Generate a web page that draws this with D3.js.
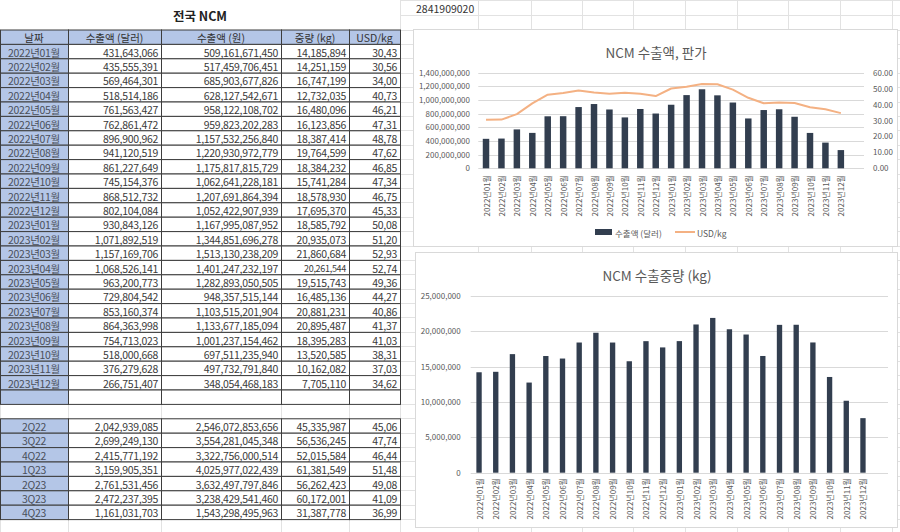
<!DOCTYPE html>
<html>
<head>
<meta charset="utf-8">
<script src="https://cdn.jsdelivr.net/npm/d3@7"></script>
<style>
  html, body { margin: 0; padding: 0; background: #fff; }
  svg { display: block; font-family: "Noto Sans CJK KR", "Noto Sans", sans-serif; }
</style>
</head>
<body>
<svg id="sheet" width="900" height="532"></svg>
<script>
// monthly data (전국 NCM)
const months = ["2022년01월","2022년02월","2022년03월","2022년04월","2022년05월","2022년06월",
  "2022년07월","2022년08월","2022년09월","2022년10월","2022년11월","2022년12월",
  "2023년01월","2023년02월","2023년03월","2023년04월","2023년05월","2023년06월",
  "2023년07월","2023년08월","2023년09월","2023년10월","2023년11월","2023년12월"];
const usdValues = [431643066,435555391,569464301,518514186,761563427,762861472,
  896900962,941120519,861227649,745154376,868512732,802104084,
  930843126,1071892519,1157169706,1068526141,963200773,729804542,
  853160374,864363998,754713023,518000668,376279628,266751407];
const krwValues = [509161671450,517459706451,685903677826,628127542671,958122108702,959823202283,
  1157532256840,1220930972779,1175817815729,1062641228181,1207691864394,1052422907939,
  1167995087952,1344851696278,1513130238209,1401247232197,1282893050505,948357515144,
  1103515201904,1133677185094,1001237154462,697511235940,497732791840,348054468183];
const kgValues = [14185894,14251159,16747199,12732035,16480096,16123856,
  18387414,19764599,18384232,15741284,18578930,17695370,
  18585792,20935073,21860684,20261544,19515743,16485136,
  20881231,20895487,18395283,13520585,10162082,7705110];
const priceValues = [30.43,30.56,34.00,40.73,46.21,47.31,48.78,47.62,46.85,47.34,46.75,45.33,
  50.08,51.20,52.93,52.74,49.36,44.27,40.86,41.37,41.03,38.31,37.03,34.62];

// quarterly data
const quarters = ["2Q22","3Q22","4Q22","1Q23","2Q23","3Q23","4Q23"];
const qUsd = [2042939085,2699249130,2415771192,3159905351,2761531456,2472237395,1161031703];
const qKrw = [2546072853656,3554281045348,3322756000514,4025977022439,3632497797846,3238429541460,1543298495963];
const qKg = [45335987,56536245,52015584,61381549,56262423,60172001,31387778];
const qPrice = [45.06,47.74,46.44,51.48,49.08,41.09,36.99];

const headers = ["날짜","수출액 (달러)","수출액 (원)","중량 (kg)","USD/kg"];
const cellNote = "2841909020";

// chart ranges include the blank row below 2023년12월
const chartCats = months.concat([""]);
const usdTicks = [0,200000000,400000000,600000000,800000000,1000000000,1200000000,1400000000];
const priceTicks = [0,10,20,30,40,50,60];
const kgTicks = [0,5000000,10000000,15000000,20000000,25000000];

const svg = d3.select("#sheet");
const comma = d3.format(",.0f");
const price = v => d3.format(".2f")(v).replace(".", ",");

// --- spreadsheet grid ---
const colEdges = [0,68,161,281,349,400,478,531,582,633,685,737,788,840,892];
const rowEdges = [0,14.75,29.5];
for (let y = 43.9; y < 532; y += 14.4) rowEdges.push(y);

const grid = svg.append("g").attr("stroke", "#e2e2e2").attr("stroke-width", 1);
grid.selectAll("line.v").data(colEdges).enter().append("line")
  .attr("x1", d => d + 0.5).attr("x2", d => d + 0.5).attr("y1", 0).attr("y2", 532);
grid.selectAll("line.h").data(rowEdges).enter().append("line")
  .attr("x1", 0).attr("x2", 900).attr("y1", d => Math.round(d) + 0.5).attr("y2", d => Math.round(d) + 0.5);

// --- table ---
const tcols = [0,68,161,281,349,400];
const rowH = 14.4;
const rowTop = i => 43.9 + rowH * i;
const blue = "#b4c6e7";
const border = "#3d3d3d";

const table = svg.append("g");
table.append("rect").attr("x", 0).attr("y", 0).attr("width", 400).attr("height", 29.5).attr("fill", "#fff");
table.append("text").attr("x", 200).attr("y", 15.5)
  .attr("text-anchor", "middle").attr("dominant-baseline", "central")
  .attr("font-size", 12.5).attr("font-weight", 700).attr("fill", "#222").text("전국 NCM");

let drawRow = (top, vals, isHeader, smallKg) => {
  let g = table.append("g");
  for (let c = 0; c < 5; c++) {
    g.append("rect")
      .attr("x", tcols[c] + 0.5).attr("y", top + 0.5)
      .attr("width", tcols[c + 1] - tcols[c]).attr("height", rowH)
      .attr("fill", (isHeader || c == 0) ? blue : "#fff")
      .attr("stroke", border).attr("stroke-width", 1);
    if (vals == null) continue;
    let center = isHeader || c == 0;
    g.append("text")
      .attr("x", center ? (tcols[c] + tcols[c + 1]) / 2 : tcols[c + 1] - 3)
      .attr("y", top + rowH / 2 + 1)
      .attr("text-anchor", center ? "middle" : "end")
      .attr("dominant-baseline", "central")
      .attr("font-size", (smallKg && c == 3) ? 9 : 10.5)
      .attr("letter-spacing", isHeader ? 0 : -0.3)
      .attr("fill", isHeader ? "#333" : (c == 0 ? "#4a4f5a" : "#3a3a3a"))
      .text(vals[c]);
  }
};

drawRow(29.5, headers, true, false);
months.forEach((m, i) => {
  drawRow(rowTop(i), [m, comma(usdValues[i]), comma(krwValues[i]), comma(kgValues[i]), price(priceValues[i])],
    false, m == "2023년04월");
});
drawRow(rowTop(24), null, false, false);
quarters.forEach((q, i) => {
  drawRow(rowTop(26 + i), [q, comma(qUsd[i]), comma(qKrw[i]), comma(qKg[i]), price(qPrice[i])], false, false);
});

svg.append("text").attr("x", 416).attr("y", 8).attr("dominant-baseline", "central")
  .attr("font-size", 10.5).attr("fill", "#333").text(cellNote);

// --- chart 1: 수출액 + 판가 ---
const navy = "#323e4f";
const orange = "#f4b183";
const axisGray = "#595959";
const gridGray = "#d9d9d9";

let c1 = svg.append("g");
c1.append("rect").attr("x", 413.5).attr("y", 29.5).attr("width", 484).attr("height", 217)
  .attr("fill", "#fff").attr("stroke", "#d9d9d9");
c1.append("text").attr("x", 656).attr("y", 52).attr("text-anchor", "middle").attr("dominant-baseline", "central")
  .attr("font-size", 13.5).attr("fill", axisGray).text("NCM 수출액, 판가");

const x1 = d3.scaleBand().domain(chartCats).range([478.3, 864]).paddingInner(0.58).paddingOuter(0.29);
const y1 = d3.scaleLinear().domain([0, 1400000000]).range([168.3, 72.7]);
const y1r = d3.scaleLinear().domain([0, 60]).range([168.3, 72.7]);

c1.append("g").selectAll("line").data(usdTicks).enter().append("line")
  .attr("x1", 478.3).attr("x2", 864)
  .attr("y1", d => Math.round(y1(d)) + 0.5).attr("y2", d => Math.round(y1(d)) + 0.5)
  .attr("stroke", gridGray);

let ax1 = c1.append("g").attr("transform", "translate(478,0)")
  .call(d3.axisLeft(y1).tickValues(usdTicks).tickFormat(comma).tickSize(0).tickPadding(8));
let ax1r = c1.append("g").attr("transform", "translate(864,0)")
  .call(d3.axisRight(y1r).tickValues(priceTicks).tickFormat(d3.format(".2f")).tickSize(0).tickPadding(9));
[ax1, ax1r].forEach(a => {
  a.select(".domain").remove();
  a.selectAll("text").attr("font-size", 8).attr("fill", axisGray).attr("font-family", "Noto Sans CJK KR");
});

c1.append("g").selectAll("rect").data(months).enter().append("rect")
  .attr("x", d => x1(d)).attr("width", x1.bandwidth())
  .attr("y", (d, i) => y1(usdValues[i])).attr("height", (d, i) => y1(0) - y1(usdValues[i]))
  .attr("fill", navy);

c1.append("path").datum(months)
  .attr("fill", "none").attr("stroke", orange).attr("stroke-width", 2).attr("stroke-linejoin", "round")
  .attr("d", d3.line().x(d => x1(d) + x1.bandwidth() / 2).y((d, i) => y1r(priceValues[i])));

c1.append("g").selectAll("text").data(months).enter().append("text")
  .attr("transform", d => `translate(${x1(d) + x1.bandwidth() / 2},${175}) rotate(-90)`)
  .attr("text-anchor", "end").attr("dominant-baseline", "central")
  .attr("font-size", 8).attr("fill", axisGray).text(d => d);

// legend
let lg = c1.append("g");
lg.append("rect").attr("x", 595).attr("y", 229).attr("width", 17).attr("height", 6).attr("fill", navy);
lg.append("text").attr("x", 615).attr("y", 232.5).attr("dominant-baseline", "central")
  .attr("font-size", 8.5).attr("fill", axisGray).text("수출액 (달러)");
lg.append("line").attr("x1", 675).attr("x2", 695).attr("y1", 232).attr("y2", 232)
  .attr("stroke", orange).attr("stroke-width", 2);
lg.append("text").attr("x", 697).attr("y", 232.5).attr("dominant-baseline", "central")
  .attr("font-size", 8.5).attr("fill", axisGray).text("USD/kg");

// --- chart 2: 수출중량 ---
let c2 = svg.append("g");
c2.append("rect").attr("x", 415.5).attr("y", 252.5).attr("width", 482).attr("height", 275)
  .attr("fill", "#fff").attr("stroke", "#d9d9d9");
c2.append("text").attr("x", 657).attr("y", 275).attr("text-anchor", "middle").attr("dominant-baseline", "central")
  .attr("font-size", 13.5).attr("fill", axisGray).text("NCM 수출중량  (kg)");

const x2 = d3.scaleBand().domain(chartCats).range([470.7, 888]).paddingInner(0.68).paddingOuter(0.34);
const y2 = d3.scaleLinear().domain([0, 25000000]).range([472.7, 295.7]);

c2.append("g").selectAll("line").data(kgTicks).enter().append("line")
  .attr("x1", 470.7).attr("x2", 888)
  .attr("y1", d => Math.round(y2(d)) + 0.5).attr("y2", d => Math.round(y2(d)) + 0.5)
  .attr("stroke", gridGray);

let ax2 = c2.append("g").attr("transform", "translate(470.7,0)")
  .call(d3.axisLeft(y2).tickValues(kgTicks).tickFormat(comma).tickSize(0).tickPadding(10));
ax2.select(".domain").remove();
ax2.selectAll("text").attr("font-size", 8).attr("fill", axisGray).attr("font-family", "Noto Sans CJK KR");

c2.append("g").selectAll("rect").data(months).enter().append("rect")
  .attr("x", d => x2(d)).attr("width", x2.bandwidth())
  .attr("y", (d, i) => y2(kgValues[i])).attr("height", (d, i) => y2(0) - y2(kgValues[i]))
  .attr("fill", navy);

c2.append("g").selectAll("text").data(months).enter().append("text")
  .attr("transform", d => `translate(${x2(d) + x2.bandwidth() / 2},${478}) rotate(-90)`)
  .attr("text-anchor", "end").attr("dominant-baseline", "central")
  .attr("font-size", 8).attr("fill", axisGray).text(d => d);
</script>
</body>
</html>
